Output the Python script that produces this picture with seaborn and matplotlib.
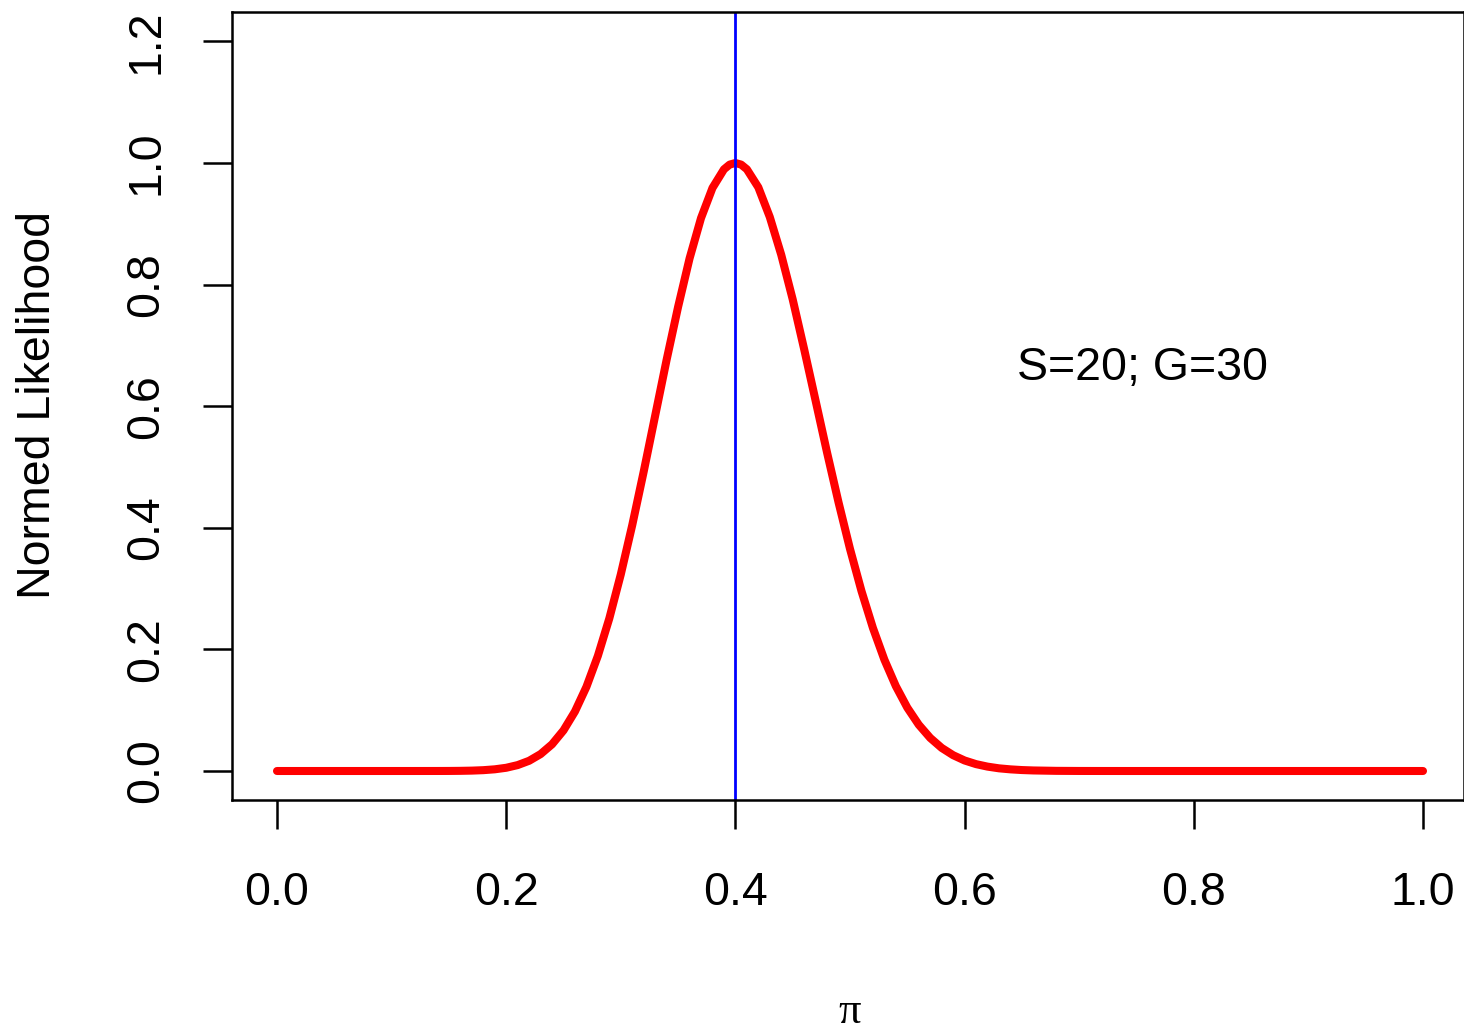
import matplotlib
matplotlib.use("Agg")
import matplotlib.pyplot as plt
import seaborn as sns
import pandas as pd

# values
pi_values = [0.00, 0.02, 0.04, 0.06, 0.08, 0.10, 0.12, 0.14, 0.15, 0.16,
             0.17, 0.18, 0.19, 0.20, 0.21, 0.22, 0.23, 0.24, 0.25, 0.26,
             0.27, 0.28, 0.29, 0.30, 0.31, 0.32, 0.33, 0.34, 0.35, 0.36,
             0.37, 0.38, 0.39, 0.395, 0.40, 0.405, 0.41, 0.42, 0.43, 0.44,
             0.45, 0.46, 0.47, 0.48, 0.49, 0.50, 0.51, 0.52, 0.53, 0.54,
             0.55, 0.56, 0.57, 0.58, 0.59, 0.60, 0.61, 0.62, 0.63, 0.64,
             0.65, 0.66, 0.68, 0.70, 0.72, 0.74, 0.76, 0.80, 0.85, 0.90,
             0.95, 1.00]
likelihood = [0.0, 0.0, 0.0, 0.0, 0.0, 0.0, 0.000005, 0.00004, 0.0001, 0.00027,
              0.000625, 0.00136, 0.00278, 0.0053, 0.00972, 0.0168, 0.0278, 0.0439, 0.0668, 0.0979,
              0.1384, 0.1894, 0.2511, 0.3234, 0.4045, 0.4926, 0.5845, 0.6765, 0.7634, 0.843,
              0.9094, 0.959, 0.9896, 0.9974, 1.0, 0.9974, 0.9897, 0.960, 0.9112, 0.849,
              0.7757, 0.6937, 0.6089, 0.5236, 0.4418, 0.3653, 0.2961, 0.2353, 0.1831, 0.1396,
              0.1042, 0.0761, 0.0544, 0.0380, 0.0260, 0.0173, 0.0113, 0.0072, 0.0044, 0.0027,
              0.00156, 0.0009, 0.00026, 0.00007, 0.00002, 0.0, 0.0, 0.0, 0.0, 0.0,
              0.0, 0.0]
mle = 0.4
annotation = "S=20; G=30"
x_ticks = [0.0, 0.2, 0.4, 0.6, 0.8, 1.0]
y_ticks = [0.0, 0.2, 0.4, 0.6, 0.8, 1.0, 1.2]

sns.set_style("white")
plt.rcParams['font.family'] = ['Liberation Sans', 'DejaVu Sans']
plt.rcParams['text.color'] = 'black'
plt.rcParams['axes.labelcolor'] = 'black'

df = pd.DataFrame({"pi": pi_values, "L": likelihood})

fig = plt.figure(figsize=(14.64, 10.29), dpi=100)
ax = fig.add_axes([232/1464, 229/1029, 1 - 232/1464, 788/1029])

sns.lineplot(data=df, x="pi", y="L", ax=ax, color="#FF0000", linewidth=5.8,
             solid_capstyle="round", solid_joinstyle="round")
ax.axvline(mle, color="#0000FF", linewidth=2.0)

ax.set_xlim(-45/1146, 1 + 41/1146)
ax.set_ylim(-29/608, 759/608)
ax.set_xticks(x_ticks)
ax.set_xticklabels([f"{v:.1f}" for v in x_ticks])
ax.set_yticks(y_ticks)
ax.set_yticklabels([f"{v:.1f}" for v in y_ticks], rotation=90, va="center")

ax.tick_params(axis="both", direction="out", length=21, width=1.8,
               labelsize=33.5, color="black", labelcolor="black",
               bottom=True, left=True, top=False, right=False)
ax.tick_params(axis="x", pad=30)
ax.tick_params(axis="y", pad=25)
for s in ax.spines.values():
    s.set_visible(True)
    s.set_color("black")
    s.set_linewidth(1.8)

ax.text(0.755, 0.663, annotation, fontsize=33.5, ha="center", va="center",
        color="black")

ax.set_xlabel("")
ax.set_ylabel("")
fig.text(850/1464, 1 - 1012/1029, "π", fontsize=32, ha="center", va="center",
         family=["Liberation Serif", "DejaVu Serif"], color="black")
fig.text(38/1464, 1 - 405/1029, "Normed Likelihood", fontsize=33.5, ha="center",
         va="center", rotation=90, color="black")

fig.savefig("out.png", dpi=100)
